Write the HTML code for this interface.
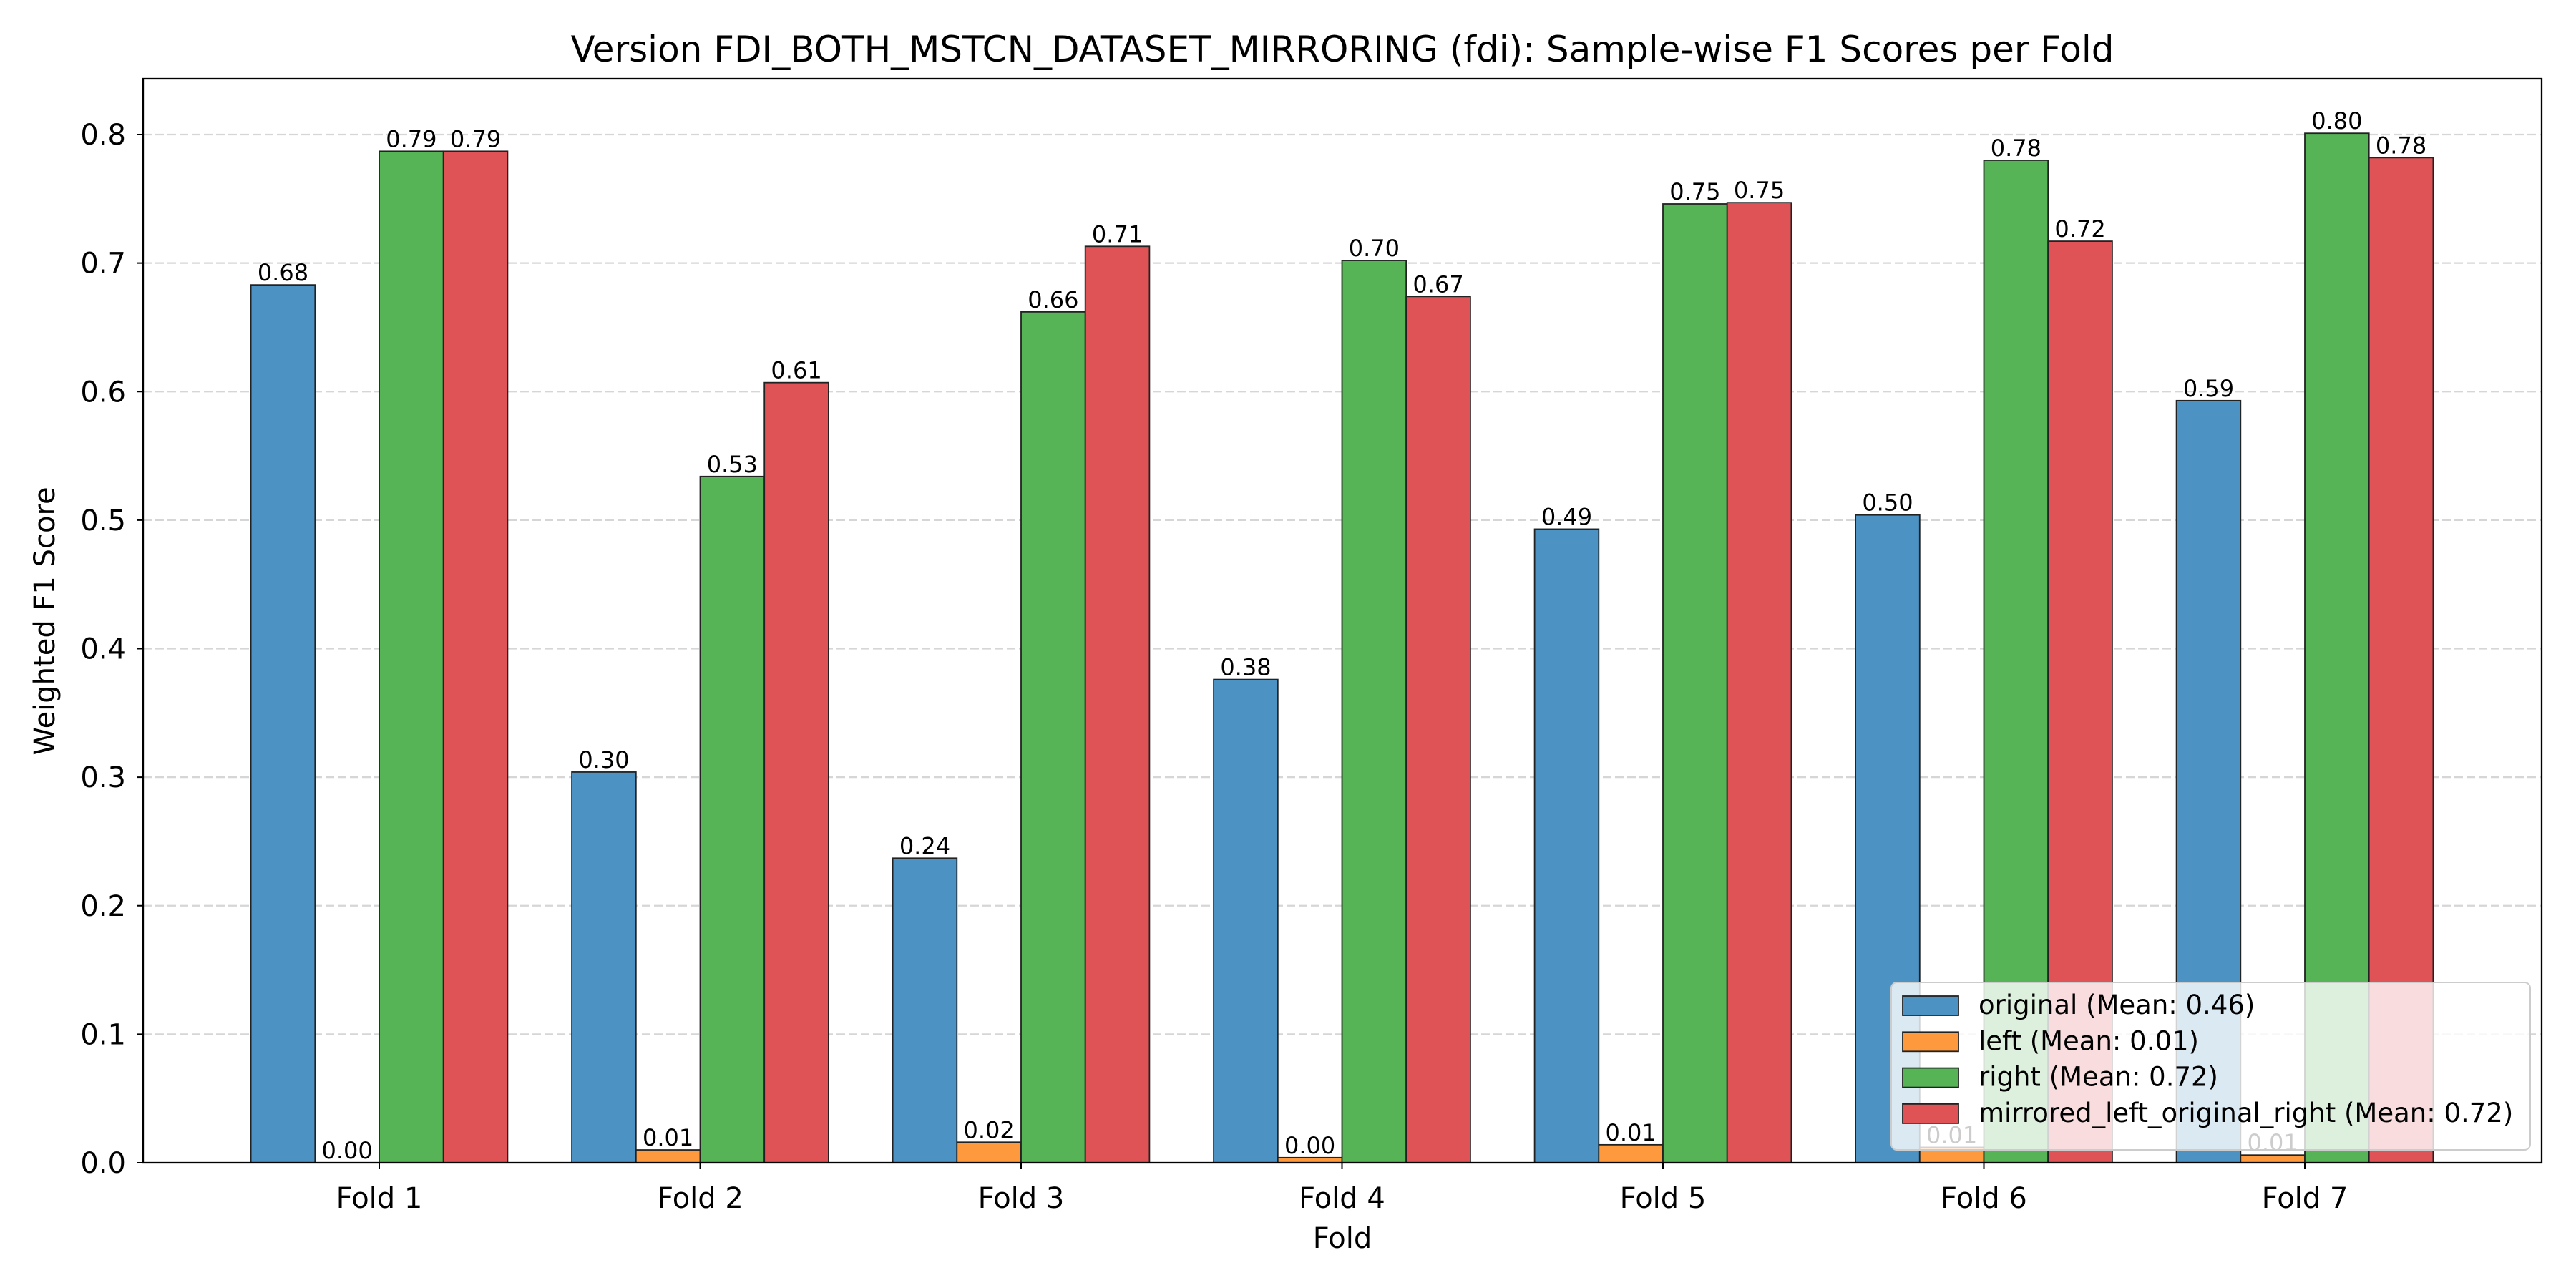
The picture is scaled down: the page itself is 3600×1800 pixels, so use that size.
<!DOCTYPE html>
<html><head><meta charset="utf-8"><style>
html,body{margin:0;padding:0;background:#fff;}
svg{display:block;font-family:"DejaVu Sans","Liberation Sans",sans-serif;}
</style></head><body>
<svg id="chart" width="3600" height="1800" viewBox="0 0 3600 1800" xmlns="http://www.w3.org/2000/svg">
<rect x="0" y="0" width="3600" height="1800" fill="#fff"/>
<g id="grid"></g>
<g id="bars"></g>
<g id="labels"></g>
<g id="axes"></g>
<g id="legend"></g>
</svg>
<script>
const categories = ["Fold 1","Fold 2","Fold 3","Fold 4","Fold 5","Fold 6","Fold 7"];
const seriesNames = ["original (Mean: 0.46)","left (Mean: 0.01)","right (Mean: 0.72)","mirrored_left_original_right (Mean: 0.72)"];
const originalVals = [0.683,0.304,0.237,0.376,0.493,0.504,0.593];
const leftVals = [0.000,0.010,0.016,0.004,0.014,0.012,0.006];
const rightVals = [0.787,0.534,0.662,0.702,0.746,0.780,0.801];
const mirroredVals = [0.787,0.607,0.713,0.674,0.747,0.717,0.782];
const yTicks = [0.0,0.1,0.2,0.3,0.4,0.5,0.6,0.7,0.8];
const colors = ["#4c92c3","#ff993e","#56b356","#df5356"];
const series = [originalVals,leftVals,rightVals,mirroredVals];
const seriesKeys = ["original","left","right","mirrored"];

const NS="http://www.w3.org/2000/svg";
const L=200,R=3552,T=110,B=1625;
function yS(v){return B-(v/0.8)*(1625-188);}
const x0=530,step=448.5,bw=89.7;
function xS(i){return x0+i*step;}
function mk(tag,attrs,parent,text){const e=document.createElementNS(NS,tag);for(const k in attrs)e.setAttribute(k,attrs[k]);if(text!==undefined)e.textContent=text;parent.appendChild(e);return e;}
const grid=document.getElementById('grid'),bars=document.getElementById('bars'),labels=document.getElementById('labels'),axes=document.getElementById('axes'),legend=document.getElementById('legend');

yTicks.forEach(t=>{
  const y=yS(t);
  if(t>0){const g=mk('line',{x1:L,x2:R,y1:y,y2:y,stroke:'#d6d6d6','stroke-width':2.3,'stroke-dasharray':'12,5'},grid);
  
  }
  const tk=mk('line',{x1:L-8,x2:L,y1:y,y2:y,stroke:'#000','stroke-width':2},axes);
  
  
  const tl=mk('text',{x:L-24,y:y+14,'text-anchor':'end','font-size':40},axes,t.toFixed(1));
  
  
});

series.forEach((vals,s)=>{
  vals.forEach((v,i)=>{
    const cx=xS(i)+(s-1.5)*bw;
    const y=yS(v);
    const r=mk('rect',{x:cx-bw/2,y:y,width:bw,height:B-y,fill:colors[s],stroke:'#222','stroke-width':1.8},bars);
    
    
    const t=mk('text',{x:cx,y:y-6,'text-anchor':'middle','font-size':32},labels,v.toFixed(2));
    
    
  });
});

categories.forEach((c,i)=>{
  const x=xS(i);
  const tk=mk('line',{x1:x,x2:x,y1:B,y2:B+9,stroke:'#000','stroke-width':2},axes);
  
  
  const tl=mk('text',{x:x,y:B+63,'text-anchor':'middle','font-size':40},axes,c);
  
  
});

const frame=mk('rect',{x:L,y:T,width:R-L,height:B-T,fill:'none',stroke:'#000','stroke-width':2.3},axes);


const title=mk('text',{x:(L+R)/2,y:86,'text-anchor':'middle','font-size':50},axes,'Version FDI_BOTH_MSTCN_DATASET_MIRRORING (fdi): Sample-wise F1 Scores per Fold');


const xl=mk('text',{x:(L+R)/2,y:1744,'text-anchor':'middle','font-size':40},axes,'Fold');


const yl=mk('text',{x:0,y:0,'text-anchor':'middle','font-size':40,transform:'translate(76,868) rotate(-90)'},axes,'Weighted F1 Score');



const lb=mk('rect',{x:2643,y:1373,width:893,height:234,rx:8,fill:'#fff','fill-opacity':0.8,stroke:'#cccccc','stroke-width':2},legend);


seriesNames.forEach((n,s)=>{
  const cy=1405+s*50.3;
  const p=mk('rect',{x:2659,y:cy-13,width:78,height:27,fill:colors[s],stroke:'#222','stroke-width':1.8},legend);
  
  
  const t=mk('text',{x:2765,y:cy+12,'font-size':37},legend,n);
  
  
});
</script>
</body></html>
